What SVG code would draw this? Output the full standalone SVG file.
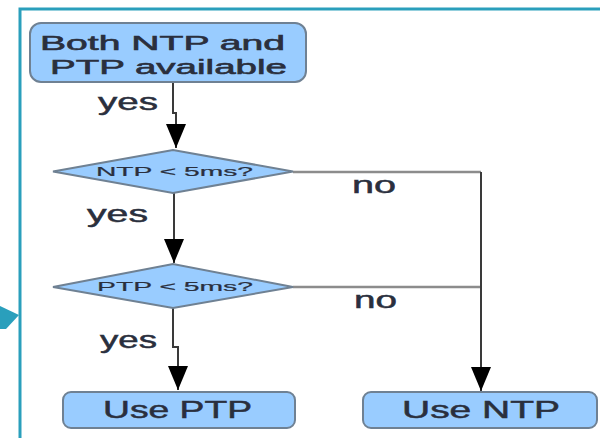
<svg xmlns="http://www.w3.org/2000/svg" width="600" height="438" viewBox="0 0 600 438">
  <style>
    .box { fill: #99ccff; stroke: #6f8193; stroke-width: 2; }
    .lbl { font-family: "Liberation Sans", Arial, sans-serif; fill: #2a2f3d; }
    .big { font-size: 24px; stroke: #2a2f3d; stroke-width: 0.5; }
    .title { font-size: 21px; stroke: #2a2f3d; stroke-width: 0.6; }
    .small { font-size: 12.5px; stroke: #2a2f3d; stroke-width: 0.2; }
    .wire { fill: none; stroke: #3a3a3a; stroke-width: 2; }
    .wire-light { fill: none; stroke: #8c8c8c; stroke-width: 2.5; }
    .frame { fill: none; stroke: #2a9fbc; stroke-width: 3; }
  </style>
  <defs>
    <marker id="arrow" viewBox="0 0 24 20" refX="24" refY="10" markerWidth="24" markerHeight="20" markerUnits="userSpaceOnUse" orient="auto">
      <path d="M0,0 L24,10 L0,20 Z" fill="#000"/>
    </marker>
  </defs>

  <rect width="600" height="438" fill="#fff"/>

  <!-- frame -->
  <g id="frame">
    <path class="frame" d="M20,438 V9 H600"/>
    <polygon points="0,306 19,315 6,329 0,329" fill="#2a9fbc"/>
  </g>

  <!-- connectors -->
  <g id="connectors">
    <path class="wire" d="M173,83 V113 H176 V148" marker-end="url(#arrow)"/>
    <path class="wire" d="M174,193 V263" marker-end="url(#arrow)"/>
    <path class="wire" d="M173,308 V347 H178 V390" marker-end="url(#arrow)"/>
    <path class="wire-light" d="M293,172 H481"/>
    <path class="wire-light" d="M293,287 H481"/>
    <path class="wire" d="M481,172 V391" marker-end="url(#arrow)"/>
    <text class="lbl big" x="98" y="110" textLength="60" lengthAdjust="spacingAndGlyphs">yes</text>
    <text class="lbl big" x="87" y="222" textLength="61" lengthAdjust="spacingAndGlyphs">yes</text>
    <text class="lbl big" x="100" y="348" textLength="57" lengthAdjust="spacingAndGlyphs">yes</text>
    <text class="lbl big" x="352" y="193" textLength="44" lengthAdjust="spacingAndGlyphs">no</text>
    <text class="lbl big" x="354" y="308" textLength="43" lengthAdjust="spacingAndGlyphs">no</text>
  </g>

  <g id="start">
    <rect class="box" x="30" y="23" width="276" height="59" rx="11"/>
    <text class="lbl title" x="40" y="50" textLength="245" lengthAdjust="spacingAndGlyphs">Both NTP and</text>
    <text class="lbl title" x="50" y="74" textLength="237" lengthAdjust="spacingAndGlyphs">PTP available</text>
  </g>

  <g id="ntp-check">
    <polygon class="box" points="53,171.5 173,150 293,171.5 173,193" stroke-width="1"/>
    <text class="lbl small" x="96" y="176" textLength="157" lengthAdjust="spacingAndGlyphs">NTP &lt; 5ms?</text>
  </g>

  <g id="ptp-check">
    <polygon class="box" points="53,287 173,264 293,287 173,308" stroke-width="1"/>
    <text class="lbl small" x="97" y="291" textLength="156" lengthAdjust="spacingAndGlyphs">PTP &lt; 5ms?</text>
  </g>

  <g id="use-ptp">
    <rect class="box" x="63" y="392" width="232" height="36" rx="8"/>
    <text class="lbl big" x="103" y="418" textLength="149" lengthAdjust="spacingAndGlyphs">Use PTP</text>
  </g>

  <g id="use-ntp">
    <rect class="box" x="363" y="392" width="234" height="36" rx="8"/>
    <text class="lbl big" x="402" y="418" textLength="158" lengthAdjust="spacingAndGlyphs">Use NTP</text>
  </g>
</svg>
